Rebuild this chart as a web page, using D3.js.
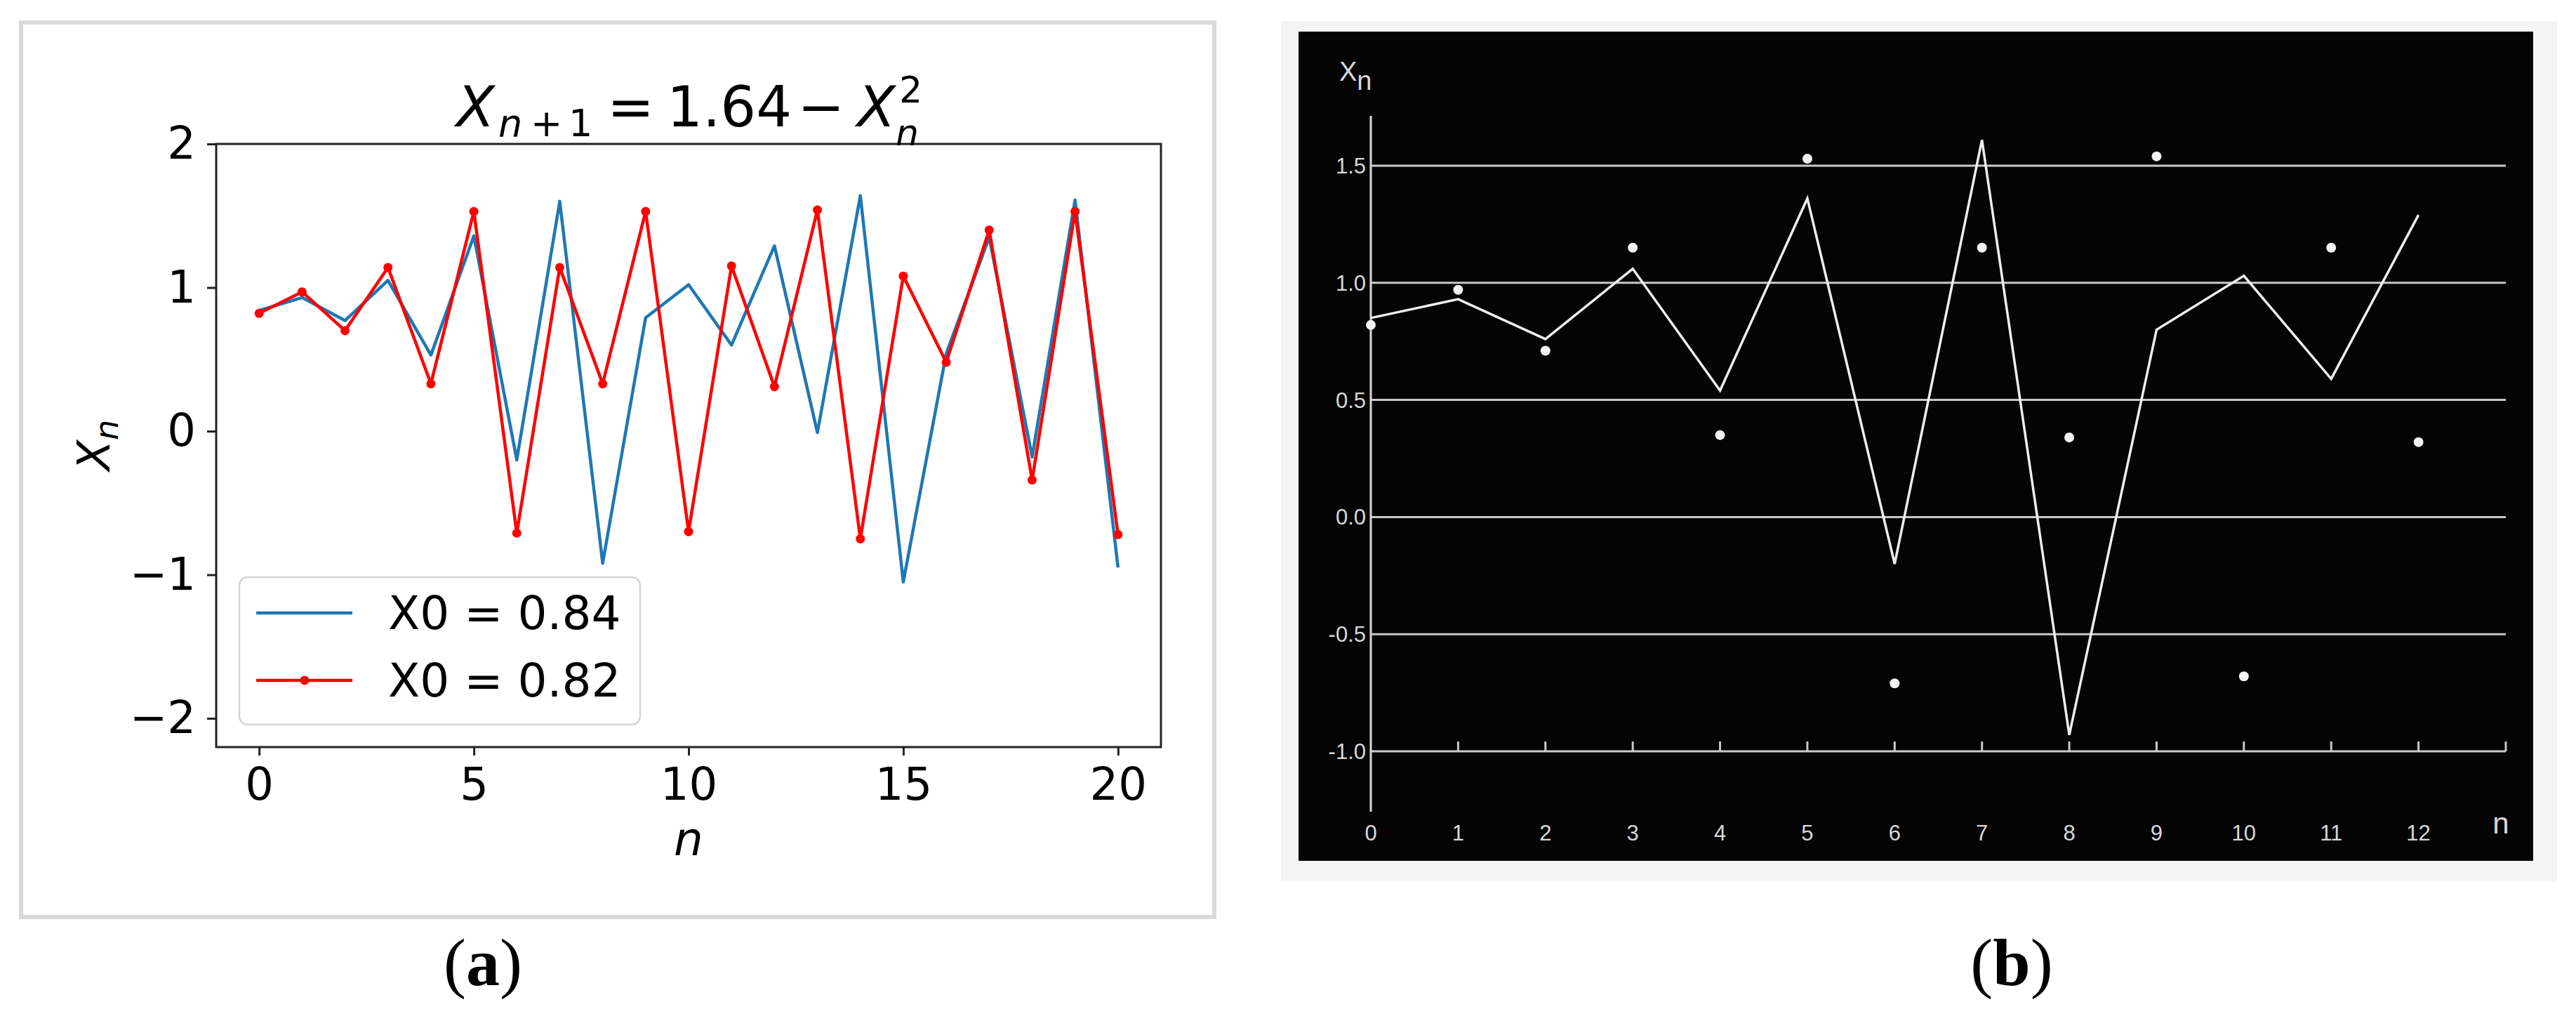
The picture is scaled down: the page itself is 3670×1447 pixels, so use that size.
<!DOCTYPE html>
<html>
<head>
<meta charset="utf-8">
<script src="https://cdn.jsdelivr.net/npm/d3@7"></script>
<style>
  body { margin: 0; background: #fff; }
  svg { display: block; }
</style>
</head>
<body>
<script>
// panel (a): iterations of X(n+1) = 1.64 - X(n)^2
var stepsA = [0, 1, 2, 3, 4, 5, 6, 7, 8, 9, 10, 11, 12, 13, 14, 15, 16, 17, 18, 19, 20];
var seriesBlue = [0.84, 0.93, 0.77, 1.05, 0.53, 1.36, -0.20, 1.60, -0.92, 0.79, 1.02, 0.60, 1.29, -0.01, 1.64, -1.05, 0.54, 1.35, -0.18, 1.61, -0.95];
var seriesRed = [0.82, 0.97, 0.70, 1.14, 0.33, 1.53, -0.71, 1.14, 0.33, 1.53, -0.70, 1.15, 0.31, 1.54, -0.75, 1.08, 0.48, 1.40, -0.34, 1.53, -0.72];
var legendLabels = ["X0 = 0.84", "X0 = 0.82"];
var ticksAX = [0, 5, 10, 15, 20];
var ticksAY = [-2, -1, 0, 1, 2];

// panel (b): the old scanned figure
var stepsB = [0, 1, 2, 3, 4, 5, 6, 7, 8, 9, 10, 11, 12];
var lineB = [0.85, 0.93, 0.76, 1.06, 0.54, 1.36, -0.20, 1.61, -0.93, 0.80, 1.03, 0.59, 1.29];
var dotsB = [0.82, 0.97, 0.71, 1.15, 0.35, 1.53, -0.71, 1.15, 0.34, 1.54, -0.68, 1.15, 0.32];
var ticksBY = [-1, -0.5, 0, 0.5, 1, 1.5];
var tickLabelsBY = ["-1.0", "-0.5", "0.0", "0.5", "1.0", "1.5"];

var svg = d3.select("body").append("svg")
    .attr("width", 3670)
    .attr("height", 1447);

svg.append("rect").attr("width", 3670).attr("height", 1447).attr("fill", "#fff");

// ---------- panel (a) ----------
var ga = svg.append("g");

ga.append("rect")
    .attr("x", 30).attr("y", 32)
    .attr("width", 1700).attr("height", 1274)
    .attr("fill", "#fff")
    .attr("stroke", "#d9d9d9")
    .attr("stroke-width", 6);

var xA = d3.scaleLinear().domain([-1, 21]).range([308, 1654]);
var yA = d3.scaleLinear().domain([-2.2, 2]).range([1064, 205]);

var fontA = "'DejaVu Sans', sans-serif";

var axLeft = ga.append("g")
    .attr("transform", "translate(308,0)")
    .call(d3.axisLeft(yA).tickValues(ticksAY).tickSize(13).tickPadding(16).tickSizeOuter(0)
        .tickFormat(function (d) { return d < 0 ? "\u2212" + Math.abs(d) : d; }));
var axBottom = ga.append("g")
    .attr("transform", "translate(0,1064)")
    .call(d3.axisBottom(xA).tickValues(ticksAX).tickSize(12).tickPadding(18).tickSizeOuter(0));

[axLeft, axBottom].forEach(function (ax) {
    ax.select(".domain").remove();
    ax.selectAll("line").attr("stroke", "#222").attr("stroke-width", 3);
    ax.selectAll("text").attr("fill", "#000").style("font-family", fontA).style("font-size", "64px");
});

var lineA = d3.line()
    .x(function (d, i) { return xA(stepsA[i]); })
    .y(function (d) { return yA(d); });

ga.append("path")
    .datum(seriesBlue)
    .attr("d", lineA)
    .attr("fill", "none")
    .attr("stroke", "#1f77b4")
    .attr("stroke-width", 4.5)
    .attr("stroke-linejoin", "round");

ga.append("path")
    .datum(seriesRed)
    .attr("d", lineA)
    .attr("fill", "none")
    .attr("stroke", "#ff0000")
    .attr("stroke-width", 4.5)
    .attr("stroke-linejoin", "round");

ga.append("g").selectAll("circle")
    .data(seriesRed)
    .enter().append("circle")
    .attr("cx", function (d, i) { return xA(stepsA[i]); })
    .attr("cy", function (d) { return yA(d); })
    .attr("r", 6.5)
    .attr("fill", "#ff0000");

// spines
ga.append("rect")
    .attr("x", 308).attr("y", 205)
    .attr("width", 1654 - 308).attr("height", 1064 - 205)
    .attr("fill", "none")
    .attr("stroke", "#222")
    .attr("stroke-width", 3);

// legend
var lg = ga.append("g");
lg.append("rect")
    .attr("x", 341).attr("y", 822)
    .attr("width", 571).attr("height", 210)
    .attr("rx", 12)
    .attr("fill", "#fff").attr("fill-opacity", 0.8)
    .attr("stroke", "#d4d4d4").attr("stroke-width", 2.5);

var legendColors = ["#1f77b4", "#ff0000"];
legendLabels.forEach(function (lab, i) {
    var ly = 873 + i * 96;
    lg.append("line")
        .attr("x1", 365).attr("x2", 502)
        .attr("y1", ly).attr("y2", ly)
        .attr("stroke", legendColors[i])
        .attr("stroke-width", 4.5);
    if (i == 1) {
        lg.append("circle").attr("cx", 434).attr("cy", ly).attr("r", 6.5).attr("fill", legendColors[i]);
    }
    lg.append("text")
        .attr("x", 553).attr("y", ly + 23)
        .style("font-family", fontA).style("font-size", "66px")
        .text(lab);
});

// title  X_{n+1} = 1.64 - X_n^2
var title = ga.append("text")
    .attr("y", 180)
    .style("font-family", fontA)
    .style("font-size", "80px");
title.append("tspan").attr("x", 650).style("font-style", "italic").text("X");
title.append("tspan").attr("x", 710).attr("y", 194).style("font-size", "54px").style("font-style", "italic").text("n");
title.append("tspan").attr("x", 756).attr("y", 194).style("font-size", "54px").text("+");
title.append("tspan").attr("x", 810).attr("y", 194).style("font-size", "54px").text("1");
title.append("tspan").attr("x", 865).attr("y", 180).text("=");
title.append("tspan").attr("x", 950).attr("y", 180).text("1.64");
title.append("tspan").attr("x", 1136).attr("y", 180).text("\u2212");
title.append("tspan").attr("x", 1221).attr("y", 180).style("font-style", "italic").text("X");
title.append("tspan").attr("x", 1281).attr("y", 146).style("font-size", "52px").text("2");
title.append("tspan").attr("x", 1276).attr("y", 207).style("font-size", "52px").style("font-style", "italic").text("n");

// axis labels
ga.append("text")
    .attr("x", 981).attr("y", 1218)
    .attr("text-anchor", "middle")
    .style("font-family", fontA).style("font-size", "66px").style("font-style", "italic")
    .text("n");

var ylab = ga.append("text")
    .attr("transform", "translate(156,634) rotate(-90)")
    .attr("text-anchor", "middle")
    .style("font-family", fontA).style("font-size", "64px").style("font-style", "italic");
ylab.append("tspan").text("X");
ylab.append("tspan").attr("dy", 12).style("font-size", "46px").text("n");

// ---------- panel (b) ----------
var gb = svg.append("g");

gb.append("rect")
    .attr("x", 1825).attr("y", 30)
    .attr("width", 3643 - 1825).attr("height", 1255 - 30)
    .attr("fill", "#f4f4f4");
gb.append("rect")
    .attr("x", 1850).attr("y", 45)
    .attr("width", 3609 - 1850).attr("height", 1226 - 45)
    .attr("fill", "#040404");

var xB = d3.scaleLinear().domain([0, 13]).range([1953, 3570]);
var yB = d3.scaleLinear().domain([-1, 1.5]).range([1070, 236]);

var fontB = "'Liberation Sans', Arial, sans-serif";
var inkB = "#d8d8d8";

gb.append("g").selectAll("line")
    .data(ticksBY)
    .enter().append("line")
    .attr("x1", xB(0)).attr("x2", xB(13))
    .attr("y1", function (d) { return yB(d); })
    .attr("y2", function (d) { return yB(d); })
    .attr("stroke", "#c9c9c9")
    .attr("stroke-width", 3);

// small upward ticks on the -1.0 line
gb.append("g").selectAll("line")
    .data(stepsB.slice(1).concat([13]))
    .enter().append("line")
    .attr("x1", function (d) { return xB(d); })
    .attr("x2", function (d) { return xB(d); })
    .attr("y1", yB(-1))
    .attr("y2", yB(-1) - 14)
    .attr("stroke", "#c9c9c9")
    .attr("stroke-width", 3);

// vertical axis
gb.append("line")
    .attr("x1", xB(0)).attr("x2", xB(0))
    .attr("y1", 165).attr("y2", 1156)
    .attr("stroke", inkB)
    .attr("stroke-width", 3);

gb.append("g").selectAll("text")
    .data(ticksBY)
    .enter().append("text")
    .attr("x", 1946)
    .attr("y", function (d) { return yB(d) + 11; })
    .attr("text-anchor", "end")
    .attr("fill", inkB)
    .style("font-family", fontB).style("font-size", "31px")
    .text(function (d, i) { return tickLabelsBY[i]; });

gb.append("g").selectAll("text")
    .data(stepsB)
    .enter().append("text")
    .attr("x", function (d) { return xB(d); })
    .attr("y", 1197)
    .attr("text-anchor", "middle")
    .attr("fill", inkB)
    .style("font-family", fontB).style("font-size", "31px")
    .text(function (d) { return d; });

gb.append("text")
    .attr("x", 3563).attr("y", 1187)
    .attr("text-anchor", "middle")
    .attr("fill", inkB)
    .style("font-family", fontB).style("font-size", "42px")
    .text("n");

var xlabB = gb.append("text")
    .attr("x", 1908).attr("y", 115)
    .attr("fill", inkB)
    .style("font-family", fontB).style("font-size", "38px");
xlabB.append("tspan").text("X");
xlabB.append("tspan").attr("dy", 13).style("font-size", "38px").text("n");

var lineBpath = d3.line()
    .x(function (d, i) { return xB(stepsB[i]); })
    .y(function (d) { return yB(d); });

gb.append("path")
    .datum(lineB)
    .attr("d", lineBpath)
    .attr("fill", "none")
    .attr("stroke", "#eeeeee")
    .attr("stroke-width", 3.5)
    .attr("stroke-linejoin", "miter");

gb.append("g").selectAll("circle")
    .data(dotsB)
    .enter().append("circle")
    .attr("cx", function (d, i) { return xB(stepsB[i]); })
    .attr("cy", function (d) { return yB(d); })
    .attr("r", 7)
    .attr("fill", "#f2f2f2");

// ---------- panel captions ----------
var captions = [{ x: 688, t: "a" }, { x: 2866, t: "b" }];
captions.forEach(function (c) {
    var cap = svg.append("text")
        .attr("x", c.x).attr("y", 1403)
        .attr("text-anchor", "middle")
        .style("font-family", "'Liberation Serif', 'Times New Roman', serif")
        .style("font-size", "96px");
    cap.append("tspan").text("(");
    cap.append("tspan").style("font-weight", "bold").text(c.t);
    cap.append("tspan").text(")");
});
</script>
</body>
</html>
